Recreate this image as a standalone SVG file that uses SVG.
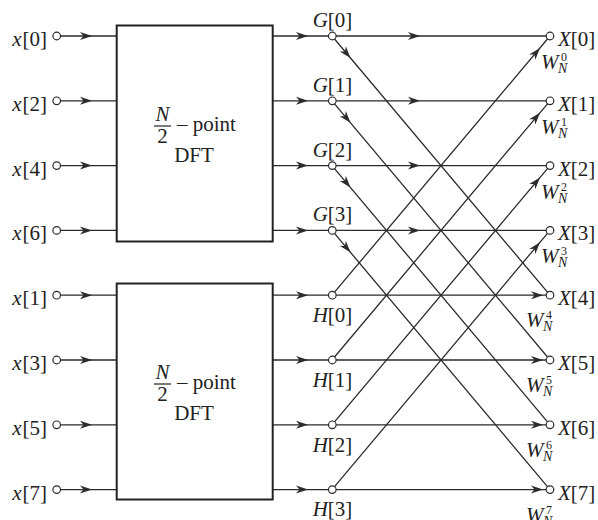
<svg xmlns="http://www.w3.org/2000/svg" width="598" height="520" viewBox="0 0 598 520">
<style>
.ln{stroke:#2b2b2b;stroke-width:1.3;fill:none}
.box{stroke:#222;stroke-width:2;fill:#fff}
.nd{stroke:#2b2b2b;stroke-width:1.2;fill:#fff}
.t{font-family:"Liberation Serif","Times New Roman",serif;font-size:21px;fill:#222}
.s{font-family:"Liberation Serif","Times New Roman",serif;font-size:14px;fill:#222}
.u{font-family:"Liberation Serif","Times New Roman",serif;font-size:12px;fill:#222}
.i{font-style:italic}
.m{text-anchor:middle}
.e{text-anchor:end}
</style>
<defs>
<path id="ah" d="M0,0 L-12,-4 L-8.5,0 L-12,4 Z" fill="#2b2b2b"/>
</defs>
<rect width="598" height="520" fill="#fff"/>
<g id="connectors">
<path class="ln" d="M60.5,36H117M60.5,100.8H117M60.5,165.6H117M60.5,230.4H117M60.5,295.2H117M60.5,360H117M60.5,424.8H117M60.5,489.6H117"/>
<path class="ln" d="M273,36H332M273,100.8H332M273,165.6H332M273,230.4H332M273,295.2H332M273,360H332M273,424.8H332M273,489.6H332"/>
<path class="ln" d="M332,36H550M332,100.8H550M332,165.6H550M332,230.4H550M332,295.2H550M332,360H550M332,424.8H550M332,489.6H550"/>
<path class="ln" d="M332,36L550,295.2M332,100.8L550,360M332,165.6L550,424.8M332,230.4L550,489.6"/>
<path class="ln" d="M332,295.2L550,36M332,360L550,100.8M332,424.8L550,165.6M332,489.6L550,230.4"/>
<g id="arrows">
<use href="#ah" transform="translate(92,36)"/>
<use href="#ah" transform="translate(92,100.8)"/>
<use href="#ah" transform="translate(92,165.6)"/>
<use href="#ah" transform="translate(92,230.4)"/>
<use href="#ah" transform="translate(92,295.2)"/>
<use href="#ah" transform="translate(92,360)"/>
<use href="#ah" transform="translate(92,424.8)"/>
<use href="#ah" transform="translate(92,489.6)"/>
<use href="#ah" transform="translate(308,36)"/>
<use href="#ah" transform="translate(308,100.8)"/>
<use href="#ah" transform="translate(308,165.6)"/>
<use href="#ah" transform="translate(308,230.4)"/>
<use href="#ah" transform="translate(308,295.2)"/>
<use href="#ah" transform="translate(308,360)"/>
<use href="#ah" transform="translate(308,424.8)"/>
<use href="#ah" transform="translate(308,489.6)"/>
<use href="#ah" transform="translate(420,36)"/>
<use href="#ah" transform="translate(420,100.8)"/>
<use href="#ah" transform="translate(420,165.6)"/>
<use href="#ah" transform="translate(420,230.4)"/>
<use href="#ah" transform="translate(543,295.2)"/>
<use href="#ah" transform="translate(543,360)"/>
<use href="#ah" transform="translate(543,424.8)"/>
<use href="#ah" transform="translate(543,489.6)"/>
<use href="#ah" transform="translate(350.5,58) rotate(49.9)"/>
<use href="#ah" transform="translate(350.5,122.8) rotate(49.9)"/>
<use href="#ah" transform="translate(350.5,187.6) rotate(49.9)"/>
<use href="#ah" transform="translate(350.5,252.4) rotate(49.9)"/>
<use href="#ah" transform="translate(540,47.9) rotate(-49.9)"/>
<use href="#ah" transform="translate(540,112.7) rotate(-49.9)"/>
<use href="#ah" transform="translate(540,177.5) rotate(-49.9)"/>
<use href="#ah" transform="translate(540,242.3) rotate(-49.9)"/>
</g>
</g>
<g id="inputs">
<g id="in-x0"><circle class="nd" cx="56.7" cy="36" r="3.8"/><text class="t e" x="47" y="46"><tspan class="i">x</tspan><tspan dx="1">[0]</tspan></text></g>
<g id="in-x2"><circle class="nd" cx="56.7" cy="100.8" r="3.8"/><text class="t e" x="47" y="110.8"><tspan class="i">x</tspan><tspan dx="1">[2]</tspan></text></g>
<g id="in-x4"><circle class="nd" cx="56.7" cy="165.6" r="3.8"/><text class="t e" x="47" y="175.6"><tspan class="i">x</tspan><tspan dx="1">[4]</tspan></text></g>
<g id="in-x6"><circle class="nd" cx="56.7" cy="230.4" r="3.8"/><text class="t e" x="47" y="240.4"><tspan class="i">x</tspan><tspan dx="1">[6]</tspan></text></g>
<g id="in-x1"><circle class="nd" cx="56.7" cy="295.2" r="3.8"/><text class="t e" x="47" y="305.2"><tspan class="i">x</tspan><tspan dx="1">[1]</tspan></text></g>
<g id="in-x3"><circle class="nd" cx="56.7" cy="360" r="3.8"/><text class="t e" x="47" y="370"><tspan class="i">x</tspan><tspan dx="1">[3]</tspan></text></g>
<g id="in-x5"><circle class="nd" cx="56.7" cy="424.8" r="3.8"/><text class="t e" x="47" y="434.8"><tspan class="i">x</tspan><tspan dx="1">[5]</tspan></text></g>
<g id="in-x7"><circle class="nd" cx="56.7" cy="489.6" r="3.8"/><text class="t e" x="47" y="499.6"><tspan class="i">x</tspan><tspan dx="1">[7]</tspan></text></g>
</g>
<g id="dft-top">
<rect class="box" x="116.7" y="25.5" width="156" height="216"/>
<text class="t i m" x="162.5" y="121">N</text>
<line x1="154" y1="126" x2="171" y2="126" stroke="#222" stroke-width="1.2"/>
<text class="t m" x="162.5" y="143">2</text>
<text class="t" x="177" y="131">– point</text>
<text class="t m" x="194" y="162">DFT</text>
</g>
<g id="dft-bottom">
<rect class="box" x="116.7" y="283.5" width="156" height="216"/>
<text class="t i m" x="162.5" y="379">N</text>
<line x1="154" y1="384" x2="171" y2="384" stroke="#222" stroke-width="1.2"/>
<text class="t m" x="162.5" y="401">2</text>
<text class="t" x="177" y="389">– point</text>
<text class="t m" x="194" y="420">DFT</text>
</g>
<g id="g-nodes">
<g id="G0"><circle class="nd" cx="332.3" cy="36" r="3.8"/><text class="t m" x="332.5" y="27"><tspan class="i">G</tspan>[0]</text></g>
<g id="G1"><circle class="nd" cx="332.3" cy="100.8" r="3.8"/><text class="t m" x="332.5" y="91.8"><tspan class="i">G</tspan>[1]</text></g>
<g id="G2"><circle class="nd" cx="332.3" cy="165.6" r="3.8"/><text class="t m" x="332.5" y="156.6"><tspan class="i">G</tspan>[2]</text></g>
<g id="G3"><circle class="nd" cx="332.3" cy="230.4" r="3.8"/><text class="t m" x="332.5" y="221.4"><tspan class="i">G</tspan>[3]</text></g>
</g>
<g id="h-nodes">
<g id="H0"><circle class="nd" cx="332.3" cy="295.2" r="3.8"/><text class="t m" x="332.5" y="322.2"><tspan class="i">H</tspan>[0]</text></g>
<g id="H1"><circle class="nd" cx="332.3" cy="360" r="3.8"/><text class="t m" x="332.5" y="387"><tspan class="i">H</tspan>[1]</text></g>
<g id="H2"><circle class="nd" cx="332.3" cy="424.8" r="3.8"/><text class="t m" x="332.5" y="451.8"><tspan class="i">H</tspan>[2]</text></g>
<g id="H3"><circle class="nd" cx="332.3" cy="489.6" r="3.8"/><text class="t m" x="332.5" y="515.6"><tspan class="i">H</tspan>[3]</text></g>
</g>
<g id="outputs">
<g id="X0"><circle class="nd" cx="550" cy="36" r="3.8"/><text class="t" x="558" y="46"><tspan class="i">X</tspan>[0]</text>
<text class="t i" x="541" y="69">W</text><text class="s i" x="558" y="73">N</text><text class="u" x="561" y="61">0</text></g>
<g id="X1"><circle class="nd" cx="550" cy="100.8" r="3.8"/><text class="t" x="558" y="110.8"><tspan class="i">X</tspan>[1]</text>
<text class="t i" x="541" y="133.8">W</text><text class="s i" x="558" y="137.8">N</text><text class="u" x="561" y="125.8">1</text></g>
<g id="X2"><circle class="nd" cx="550" cy="165.6" r="3.8"/><text class="t" x="558" y="175.6"><tspan class="i">X</tspan>[2]</text>
<text class="t i" x="541" y="198.6">W</text><text class="s i" x="558" y="202.6">N</text><text class="u" x="561" y="190.6">2</text></g>
<g id="X3"><circle class="nd" cx="550" cy="230.4" r="3.8"/><text class="t" x="558" y="240.4"><tspan class="i">X</tspan>[3]</text>
<text class="t i" x="541" y="263.4">W</text><text class="s i" x="558" y="267.4">N</text><text class="u" x="561" y="255.4">3</text></g>
<g id="X4"><circle class="nd" cx="550" cy="295.2" r="3.8"/><text class="t" x="558" y="305.2"><tspan class="i">X</tspan>[4]</text>
<text class="t i" x="526" y="327.2">W</text><text class="s i" x="543" y="331.2">N</text><text class="u" x="546" y="319.2">4</text></g>
<g id="X5"><circle class="nd" cx="550" cy="360" r="3.8"/><text class="t" x="558" y="370"><tspan class="i">X</tspan>[5]</text>
<text class="t i" x="526" y="392">W</text><text class="s i" x="543" y="396">N</text><text class="u" x="546" y="384">5</text></g>
<g id="X6"><circle class="nd" cx="550" cy="424.8" r="3.8"/><text class="t" x="558" y="434.8"><tspan class="i">X</tspan>[6]</text>
<text class="t i" x="526" y="456.8">W</text><text class="s i" x="543" y="460.8">N</text><text class="u" x="546" y="448.8">6</text></g>
<g id="X7"><circle class="nd" cx="550" cy="489.6" r="3.8"/><text class="t" x="558" y="499.6"><tspan class="i">X</tspan>[7]</text>
<text class="t i" x="526" y="521.6">W</text><text class="s i" x="543" y="525.6">N</text><text class="u" x="546" y="513.6">7</text></g>
</g>
</svg>
